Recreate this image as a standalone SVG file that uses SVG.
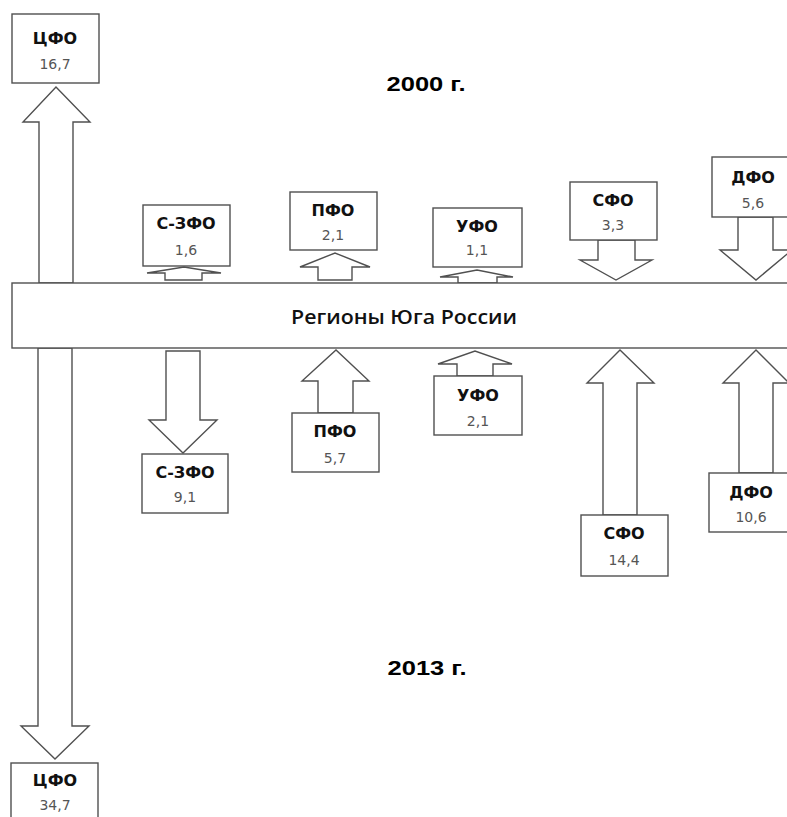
<svg xmlns="http://www.w3.org/2000/svg" width="787" height="817" viewBox="0 0 787 817">
<style>
.bg{fill:#fff}
.box{fill:#fff;stroke:#505050;stroke-width:1.4}
.arr{fill:#fff;stroke:#505050;stroke-width:1.4;stroke-linejoin:miter}
.lbl{font-family:"DejaVu Sans",Verdana,sans-serif;font-weight:bold;font-size:16px;fill:#111;text-anchor:middle}
.num{font-family:"DejaVu Sans",sans-serif;font-size:14px;fill:#555;text-anchor:middle}
.bar{font-family:"Open Sans","Liberation Sans",sans-serif;font-weight:600;font-size:19px;fill:#111;text-anchor:middle}
.ttl{font-family:"Liberation Sans",Arial,sans-serif;font-weight:bold;font-size:21px;fill:#000;text-anchor:middle}
</style>
<rect class="bg" x="0" y="0" width="787" height="817"/>
<g id="connectors">
<polygon class="arr" points="39,283 39,122 23,122 56,87 90,122 73,122 73,283"/>
<polygon class="arr" points="165,280 165,273 147,273 184,267 221,273 202,273 202,280"/>
<polygon class="arr" points="318,280 318,267 300,267 335,253 370,267 352,267 352,280"/>
<polygon class="arr" points="458,283 458,277 440,277 477,270 513,277 497,277 497,283"/>
<polygon class="arr" points="598,240 635,240 635,260 652,260 616,280 580,260 598,260"/>
<polygon class="arr" points="738,217 773,217 773,250 792,250 756,280 720,250 738,250"/>
<polygon class="arr" points="38,348 72,348 72,726 89,726 55,759 21,726 38,726"/>
<polygon class="arr" points="166,351 200,351 200,420 217,420 183,453 149,420 166,420"/>
<polygon class="arr" points="318,413 318,381 302,381 336,350 369,381 353,381 353,413"/>
<polygon class="arr" points="457,376 457,364 438,364 475,351 512,364 493,364 493,376"/>
<polygon class="arr" points="603,515 603,383 587,383 620,350 654,383 637,383 637,515"/>
<polygon class="arr" points="739,473 739,383 723,383 756,350 789,383 773,383 773,473"/>
</g>
<g id="bar">
<rect class="box" x="12" y="283" width="790" height="65"/>
<text class="bar" x="404" y="324" textLength="226" lengthAdjust="spacingAndGlyphs">Регионы Юга России</text>
</g>
<g id="title2000"><text class="ttl" x="426" y="91" textLength="79" lengthAdjust="spacingAndGlyphs">2000 г.</text></g>
<g id="title2013"><text class="ttl" x="427" y="675" textLength="79" lengthAdjust="spacingAndGlyphs">2013 г.</text></g>
<g id="cfo2000"><rect class="box" x="12" y="14" width="87" height="69"/><text class="lbl" x="55" y="44">ЦФО</text><text class="num" x="55" y="69">16,7</text></g>
<g id="szfo2000"><rect class="box" x="143" y="205" width="87" height="61"/><text class="lbl" x="186" y="229">С-ЗФО</text><text class="num" x="186" y="255">1,6</text></g>
<g id="pfo2000"><rect class="box" x="290" y="192" width="87" height="58"/><text class="lbl" x="333" y="216">ПФО</text><text class="num" x="333" y="240">2,1</text></g>
<g id="ufo2000"><rect class="box" x="433" y="208" width="89" height="59"/><text class="lbl" x="477" y="232">УФО</text><text class="num" x="477" y="255">1,1</text></g>
<g id="sfo2000"><rect class="box" x="570" y="182" width="87" height="58"/><text class="lbl" x="613" y="206">СФО</text><text class="num" x="613" y="230">3,3</text></g>
<g id="dfo2000"><rect class="box" x="712" y="157" width="88" height="60"/><text class="lbl" x="753" y="183">ДФО</text><text class="num" x="753" y="208">5,6</text></g>
<g id="szfo2013"><rect class="box" x="142" y="454" width="86" height="59"/><text class="lbl" x="185" y="478">С-ЗФО</text><text class="num" x="185" y="502">9,1</text></g>
<g id="pfo2013"><rect class="box" x="292" y="413" width="87" height="59"/><text class="lbl" x="335" y="437">ПФО</text><text class="num" x="335" y="463">5,7</text></g>
<g id="ufo2013"><rect class="box" x="434" y="376" width="88" height="59"/><text class="lbl" x="478" y="401">УФО</text><text class="num" x="478" y="426">2,1</text></g>
<g id="sfo2013"><rect class="box" x="581" y="515" width="87" height="61"/><text class="lbl" x="624" y="539">СФО</text><text class="num" x="624" y="565">14,4</text></g>
<g id="dfo2013"><rect class="box" x="709" y="473" width="88" height="59"/><text class="lbl" x="751" y="498">ДФО</text><text class="num" x="751" y="522">10,6</text></g>
<g id="cfo2013"><rect class="box" x="11" y="763" width="87" height="60"/><text class="lbl" x="55" y="786">ЦФО</text><text class="num" x="55" y="810">34,7</text></g>
</svg>
